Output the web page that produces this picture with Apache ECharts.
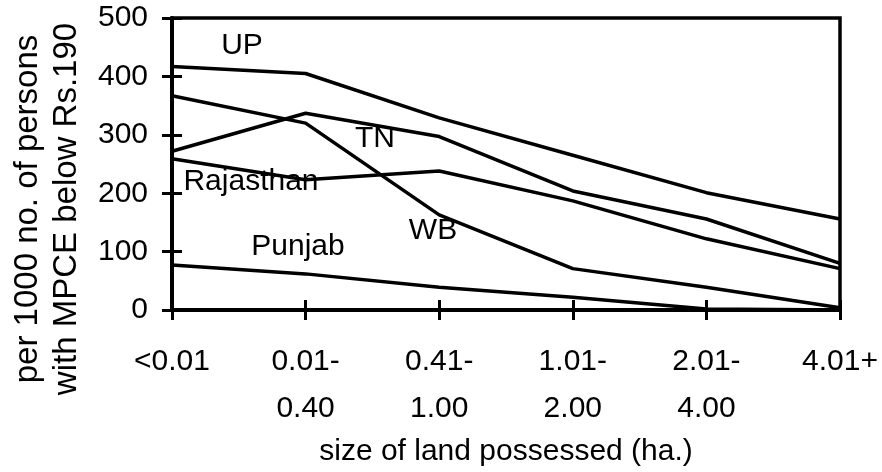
<!DOCTYPE html>
<html>
<head>
<meta charset="utf-8">
<script src="https://cdn.jsdelivr.net/npm/echarts@6/dist/echarts.min.js"></script>
<style>
  html, body { margin: 0; padding: 0; background: #fff; }
  #chart { width: 882px; height: 472px; }
</style>
</head>
<body>
<div id="chart"></div>
<script>
// land size classes (x axis)
const categories = ['<0.01', '0.01-\n0.40', '0.41-\n1.00', '1.01-\n2.00', '2.01-\n4.00', '4.01+']
const yTicks = { min: 0, max: 500, interval: 100 }

// persons per 1000 with MPCE below Rs.190
const up = [417, 405, 329, 265, 201, 156]
const wb = [367, 320, 163, 71, 39, 4]
const tn = [272, 337, 297, 204, 156, 80]
const rajasthan = [259, 223, 238, 187, 122, 71]
const punjab = [77, 62, 39, 22, 2, 0]

const seriesNames = ['UP', 'WB', 'TN', 'Rajasthan', 'Punjab']
const seriesData = [up, wb, tn, rajasthan, punjab]

const font = "'Liberation Sans', Arial, sans-serif"

const chart = echarts.init(document.getElementById('chart'), null, { renderer: 'canvas' })

const lineSeries = seriesData.map((d, i) => ({
  name: seriesNames[i],
  type: 'line',
  data: d,
  symbol: 'none',
  silent: true,
  lineStyle: { color: '#000', width: 3.5 }
}))

// text labels placed inside the plot like the original
const tag = (text, x, y) => ({
  type: 'text',
  x,
  y,
  style: {
    text,
    fontSize: 30,
    fontFamily: font,
    fill: '#000',
    align: 'center',
    verticalAlign: 'middle'
  }
})

const option = {
  animation: false,
  grid: {
    left: 172,
    right: 42,
    top: 18,
    bottom: 159,
    show: true,
    borderColor: '#000',
    borderWidth: 3.5
  },
  xAxis: [{
    type: 'category',
    data: categories,
    boundaryGap: false,
    axisLine: { lineStyle: { color: '#000', width: 4 } },
    axisTick: { length: 10, lineStyle: { color: '#000', width: 3 } },
    axisLabel: {
      color: '#000',
      fontSize: 30,
      fontFamily: font,
      lineHeight: 47,
      margin: 28,
      interval: 0
    },
    name: 'size of land possessed (ha.)',
    nameLocation: 'middle',
    nameGap: 123,
    nameTextStyle: { color: '#000', fontSize: 30, fontFamily: font }
  }, {
    type: 'category',
    data: categories,
    boundaryGap: false,
    position: 'bottom',
    axisLine: { show: false },
    axisTick: { inside: true, length: 10, lineStyle: { color: '#000', width: 3 } },
    axisLabel: { show: false }
  }],
  yAxis: [{
    type: 'value',
    ...yTicks,
    splitLine: { show: false },
    axisLine: { show: true, lineStyle: { color: '#000', width: 4 } },
    axisTick: { show: true, length: 10, lineStyle: { color: '#000', width: 3 } },
    axisLabel: { color: '#000', fontSize: 30, fontFamily: font, margin: 24 }
  }, {
    type: 'value',
    ...yTicks,
    position: 'left',
    splitLine: { show: false },
    axisLine: { show: false },
    axisTick: { show: true, inside: true, length: 10, lineStyle: { color: '#000', width: 3 } },
    axisLabel: { show: false }
  }],
  graphic: [
    {
      type: 'text',
      x: 47,
      y: 209,
      rotation: Math.PI / 2,
      style: {
        text: 'per 1000 no. of persons\nwith MPCE below Rs.190',
        fontSize: 33,
        lineHeight: 39,
        fontFamily: font,
        fill: '#000',
        align: 'center',
        verticalAlign: 'middle'
      }
    },
    tag('UP', 242, 46),
    tag('TN', 375, 139),
    tag('Rajasthan', 251, 182),
    tag('WB', 433, 231),
    tag('Punjab', 298, 247)
  ],
  series: lineSeries
}

chart.setOption(option)
</script>
</body>
</html>
